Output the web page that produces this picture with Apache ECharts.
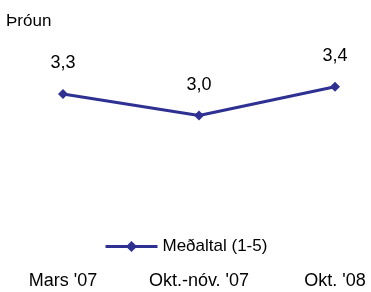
<!DOCTYPE html>
<html>
<head>
<meta charset="utf-8">
<script src="https://cdn.jsdelivr.net/npm/echarts@6/dist/echarts.min.js"></script>
<style>
  html, body { margin: 0; padding: 0; background: #fff; }
  #chart { width: 371px; height: 292px; }
</style>
</head>
<body>
<div id="chart"></div>
<script>
var categories = ["Mars '07", "Okt.-nóv. '07", "Okt. '08"]
var seriesName = 'Meðaltal (1-5)'
var values = [3.3, 3.0, 3.4]

var chart = echarts.init(document.getElementById('chart'))
var lineColor = '#2e3192'
var font = 'Liberation Sans, Arial, sans-serif'

var option = {
  animation: false,
  backgroundColor: '#fff',
  title: {
    text: 'Þróun',
    left: 6,
    top: 13,
    padding: 0,
    textStyle: { fontFamily: font, fontSize: 17, fontWeight: 'normal', color: '#000' }
  },
  legend: {
    data: [seriesName],
    left: 104,
    top: 238,
    padding: 0,
    itemWidth: 52,
    itemHeight: 14,
    itemGap: 4,
    lineStyle: { width: 3 },
    textStyle: { fontFamily: font, fontSize: 17, color: '#000' }
  },
  grid: { left: 63, right: 36, top: 58, bottom: 24 },
  xAxis: {
    type: 'category',
    data: categories,
    boundaryGap: false,
    axisLine: { show: false },
    axisTick: { show: false },
    axisLabel: { fontFamily: font, fontSize: 18, color: '#000', margin: 4 }
  },
  yAxis: {
    type: 'value',
    min: 0.88,
    max: 3.8,
    show: false,
    splitLine: { show: false }
  },
  series: [
    {
      name: seriesName,
      type: 'line',
      data: values,
      symbol: 'diamond',
      symbolSize: 10,
      lineStyle: { color: lineColor, width: 3 },
      itemStyle: { color: lineColor },
      label: {
        show: true,
        position: 'top',
        distance: 17,
        fontFamily: font,
        fontSize: 18,
        color: '#000',
        formatter: function (p) { return p.value.toFixed(1).replace('.', ',') }
      }
    }
  ]
}
chart.setOption(option)
</script>
</body>
</html>
